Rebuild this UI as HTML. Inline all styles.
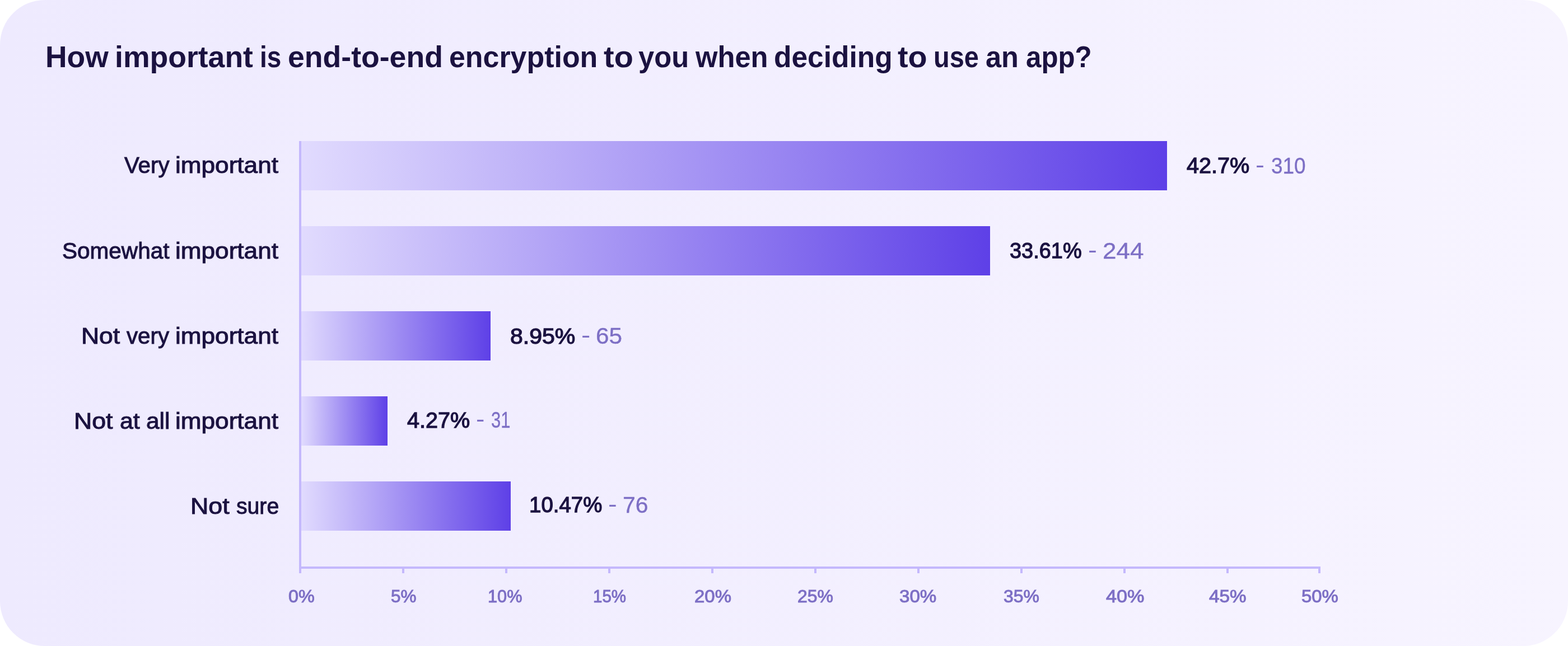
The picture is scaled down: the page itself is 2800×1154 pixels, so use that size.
<!DOCTYPE html>
<html lang="en">
<head>
<meta charset="utf-8">
<title>How important is end-to-end encryption to you when deciding to use an app?</title>
<style>
html,body{margin:0;padding:0;background:#fff;}
body{width:2800px;height:1154px;overflow:hidden;position:relative;font-family:"Liberation Sans",sans-serif;}
.card{position:absolute;left:0;top:0;width:2800px;height:1154px;border-radius:80px;background:linear-gradient(90deg,#eeeafe 0%,#f7f4ff 100%);overflow:hidden;}
.t{position:relative;display:inline-block;width:0;vertical-align:top;white-space:nowrap;line-height:1;transform-origin:0 0;margin:0;padding:0;}
h1,.lbl,.val,.ticks{position:absolute;left:0;top:0;margin:0;padding:0;font-size:0;line-height:0;white-space:nowrap;}
h1{font-weight:bold;color:#1b1240;}
.cat{color:#1b1240;font-weight:normal;}
.pct{color:#1b1240;font-weight:normal;}
.cnt{color:#7d6fc5;font-weight:normal;}
.tick{color:#7d6fc5;font-weight:normal;}
.ax{position:absolute;background:#c4b8fc;}
.bar{position:absolute;left:538px;height:88px;background:linear-gradient(90deg,#e1dbfe 0%,#5e40e7 100%);}
</style>
</head>
<body>
<div class="card">
<h1>
<span class="t w" id="tw0" style="left:80.82px;top:75.4px;font-size:53px;transform:scaleX(1.0075);">How</span> 
<span class="t w" id="tw1" style="left:205.01px;top:75.4px;font-size:53px;transform:scaleX(1.0105);">important</span> 
<span class="t w" id="tw2" style="left:463.79px;top:75.4px;font-size:53px;transform:scaleX(0.8672);">is</span> 
<span class="t w" id="tw3" style="left:513.87px;top:75.4px;font-size:53px;transform:scaleX(1.0115);">end-to-end</span> 
<span class="t w" id="tw4" style="left:801.74px;top:75.4px;font-size:53px;transform:scaleX(0.9792);">encryption</span> 
<span class="t w" id="tw5" style="left:1078.07px;top:75.4px;font-size:53px;transform:scaleX(1.0558);">to</span> 
<span class="t w" id="tw6" style="left:1140.29px;top:75.4px;font-size:53px;transform:scaleX(0.9573);">you</span> 
<span class="t w" id="tw7" style="left:1241.98px;top:75.4px;font-size:53px;transform:scaleX(0.9563);">when</span> 
<span class="t w" id="tw8" style="left:1382.34px;top:75.4px;font-size:53px;transform:scaleX(0.9713);">deciding</span> 
<span class="t w" id="tw9" style="left:1603.22px;top:75.4px;font-size:53px;transform:scaleX(1.0526);">to</span> 
<span class="t w" id="tw10" style="left:1667.08px;top:75.4px;font-size:53px;transform:scaleX(0.8859);">use</span> 
<span class="t w" id="tw11" style="left:1760.47px;top:75.4px;font-size:53px;transform:scaleX(0.9521);">an</span> 
<span class="t w" id="tw12" style="left:1831.51px;top:75.4px;font-size:53px;transform:scaleX(0.9289);">app?</span>
</h1>
<div class="chart">
<div class="lbl">
<span class="t cat" id="cat0_0" style="left:221.75px;top:275.31px;font-size:40px;transform:scaleX(1.006);-webkit-text-stroke:1.0px currentColor;">Very</span> 
<span class="t cat" id="cat0_1" style="left:313.15px;top:275.31px;font-size:40px;transform:scaleX(1.1034);-webkit-text-stroke:1.0px currentColor;">important</span>
</div>
<div class="bar" style="top:252px;width:1546px"></div>
<div class="val">
<span class="t pct" id="pct0" style="left:2118.82px;top:276.27px;font-size:39px;transform:scaleX(1.0153);-webkit-text-stroke:1.3px currentColor;">42.7%</span> 
<span class="t cnt" id="dash0" style="left:2242.46px;top:274.61px;font-size:41px;transform:scale(1.1682,0.9735);">-</span> 
<span class="t cnt" id="cnt0" style="left:2269.57px;top:275.6px;font-size:41px;transform:scaleX(0.9003);-webkit-text-stroke:0.4px currentColor;">310</span>
</div>
<div class="lbl">
<span class="t cat" id="cat1_0" style="left:110.55px;top:427.51px;font-size:40px;transform:scaleX(1.0131);-webkit-text-stroke:1.0px currentColor;">Somewhat</span> 
<span class="t cat" id="cat1_1" style="left:313.15px;top:427.51px;font-size:40px;transform:scaleX(1.1034);-webkit-text-stroke:1.0px currentColor;">important</span>
</div>
<div class="bar" style="top:404px;width:1230px"></div>
<div class="val">
<span class="t pct" id="pct1" style="left:1802.83px;top:428.47px;font-size:39px;transform:scaleX(0.9725);-webkit-text-stroke:1.3px currentColor;">33.61%</span> 
<span class="t cnt" id="dash1" style="left:1942.87px;top:426.61px;font-size:41px;transform:scale(1.1632,0.9735);">-</span> 
<span class="t cnt" id="cnt1" style="left:1969.36px;top:427.8px;font-size:41px;transform:scaleX(1.0725);-webkit-text-stroke:0.4px currentColor;">244</span>
</div>
<div class="lbl">
<span class="t cat" id="cat2_0" style="left:144.91px;top:579.51px;font-size:40px;transform:scaleX(1.1117);-webkit-text-stroke:1.0px currentColor;">Not</span> 
<span class="t cat" id="cat2_1" style="left:226.24px;top:579.51px;font-size:40px;transform:scaleX(1.006);-webkit-text-stroke:1.0px currentColor;">very</span> 
<span class="t cat" id="cat2_2" style="left:313.15px;top:579.51px;font-size:40px;transform:scaleX(1.1034);-webkit-text-stroke:1.0px currentColor;">important</span>
</div>
<div class="bar" style="top:556px;width:338px"></div>
<div class="val">
<span class="t pct" id="pct2" style="left:910.62px;top:580.57px;font-size:39px;transform:scaleX(1.052);-webkit-text-stroke:1.3px currentColor;">8.95%</span> 
<span class="t cnt" id="dash2" style="left:1037.81px;top:578.61px;font-size:41px;transform:scale(1.1933,0.9735);">-</span> 
<span class="t cnt" id="cnt2" style="left:1064.4px;top:579.9px;font-size:41px;transform:scaleX(1.0333);-webkit-text-stroke:0.4px currentColor;">65</span>
</div>
<div class="lbl">
<span class="t cat" id="cat3_0" style="left:132.4px;top:731.51px;font-size:40px;transform:scaleX(1.1167);-webkit-text-stroke:1.0px currentColor;">Not</span> 
<span class="t cat" id="cat3_1" style="left:213.71px;top:731.51px;font-size:40px;transform:scaleX(1.0711);-webkit-text-stroke:1.0px currentColor;">at</span> 
<span class="t cat" id="cat3_2" style="left:260.72px;top:731.51px;font-size:40px;transform:scaleX(1.0605);-webkit-text-stroke:1.0px currentColor;">all</span> 
<span class="t cat" id="cat3_3" style="left:313.15px;top:731.51px;font-size:40px;transform:scaleX(1.1034);-webkit-text-stroke:1.0px currentColor;">important</span>
</div>
<div class="bar" style="top:708px;width:154px"></div>
<div class="val">
<span class="t pct" id="pct3" style="left:726.67px;top:730.67px;font-size:39px;transform:scaleX(1.0139);-webkit-text-stroke:1.3px currentColor;">4.27%</span> 
<span class="t cnt" id="dash3" style="left:849.93px;top:728.81px;font-size:41px;transform:scale(1.1281,0.9735);">-</span> 
<span class="t cnt" id="cnt3" style="left:877.43px;top:730.0px;font-size:41px;transform:scaleX(0.7546);-webkit-text-stroke:0.4px currentColor;">31</span>
</div>
<div class="lbl">
<span class="t cat" id="cat4_0" style="left:339.89px;top:883.71px;font-size:40px;transform:scaleX(1.12);-webkit-text-stroke:1.0px currentColor;">Not</span> 
<span class="t cat" id="cat4_1" style="left:422.48px;top:883.71px;font-size:40px;transform:scaleX(0.9786);-webkit-text-stroke:1.0px currentColor;">sure</span>
</div>
<div class="bar" style="top:860px;width:374px"></div>
<div class="val">
<span class="t pct" id="pct4" style="left:944.51px;top:882.17px;font-size:39px;transform:scaleX(0.9855);-webkit-text-stroke:1.3px currentColor;">10.47%</span> 
<span class="t cnt" id="dash4" style="left:1086.39px;top:881.21px;font-size:41px;transform:scale(1.1532,0.9735);">-</span> 
<span class="t cnt" id="cnt4" style="left:1112.24px;top:881.5px;font-size:41px;transform:scaleX(0.9979);-webkit-text-stroke:0.4px currentColor;">76</span>
</div>
<div class="ax" style="left:534px;top:252px;width:4px;height:772px"></div>
<div class="ax" style="left:534px;top:1012px;width:1824px;height:4px"></div>
<div class="ax" style="left:718px;top:1016px;width:4px;height:8px"></div>
<div class="ax" style="left:902px;top:1016px;width:4px;height:8px"></div>
<div class="ax" style="left:1086px;top:1016px;width:4px;height:8px"></div>
<div class="ax" style="left:1270px;top:1016px;width:4px;height:8px"></div>
<div class="ax" style="left:1454px;top:1016px;width:4px;height:8px"></div>
<div class="ax" style="left:1638px;top:1016px;width:4px;height:8px"></div>
<div class="ax" style="left:1822px;top:1016px;width:4px;height:8px"></div>
<div class="ax" style="left:2006px;top:1016px;width:4px;height:8px"></div>
<div class="ax" style="left:2190px;top:1016px;width:4px;height:8px"></div>
<div class="ax" style="left:2354px;top:1016px;width:4px;height:8px"></div>
<div class="ticks">
<span class="t tick" id="tick0" style="left:514.71px;top:1048.61px;font-size:32px;transform:scaleX(1.0112);-webkit-text-stroke:1.0px currentColor;">0%</span> 
<span class="t tick" id="tick1" style="left:697.74px;top:1048.61px;font-size:32px;transform:scaleX(0.9831);-webkit-text-stroke:1.0px currentColor;">5%</span> 
<span class="t tick" id="tick2" style="left:870.57px;top:1048.61px;font-size:32px;transform:scaleX(0.9591);-webkit-text-stroke:1.0px currentColor;">10%</span> 
<span class="t tick" id="tick3" style="left:1059.14px;top:1048.61px;font-size:32px;transform:scaleX(0.9224);-webkit-text-stroke:1.0px currentColor;">15%</span> 
<span class="t tick" id="tick4" style="left:1239.89px;top:1048.61px;font-size:32px;transform:scaleX(1.0291);-webkit-text-stroke:1.0px currentColor;">20%</span> 
<span class="t tick" id="tick5" style="left:1423.92px;top:1048.61px;font-size:32px;transform:scaleX(0.9969);-webkit-text-stroke:1.0px currentColor;">25%</span> 
<span class="t tick" id="tick6" style="left:1606.46px;top:1048.61px;font-size:32px;transform:scaleX(1.0358);-webkit-text-stroke:1.0px currentColor;">30%</span> 
<span class="t tick" id="tick7" style="left:1792.0px;top:1048.61px;font-size:32px;transform:scaleX(0.9957);-webkit-text-stroke:1.0px currentColor;">35%</span> 
<span class="t tick" id="tick8" style="left:1974.8px;top:1048.61px;font-size:32px;transform:scaleX(1.07);-webkit-text-stroke:1.0px currentColor;">40%</span> 
<span class="t tick" id="tick9" style="left:2158.8px;top:1048.61px;font-size:32px;transform:scaleX(1.0383);-webkit-text-stroke:1.0px currentColor;">45%</span> 
<span class="t tick" id="tick10" style="left:2323.95px;top:1048.61px;font-size:32px;transform:scaleX(1.0282);-webkit-text-stroke:1.0px currentColor;">50%</span>
</div>
</div>
</div>
</body>
</html>
